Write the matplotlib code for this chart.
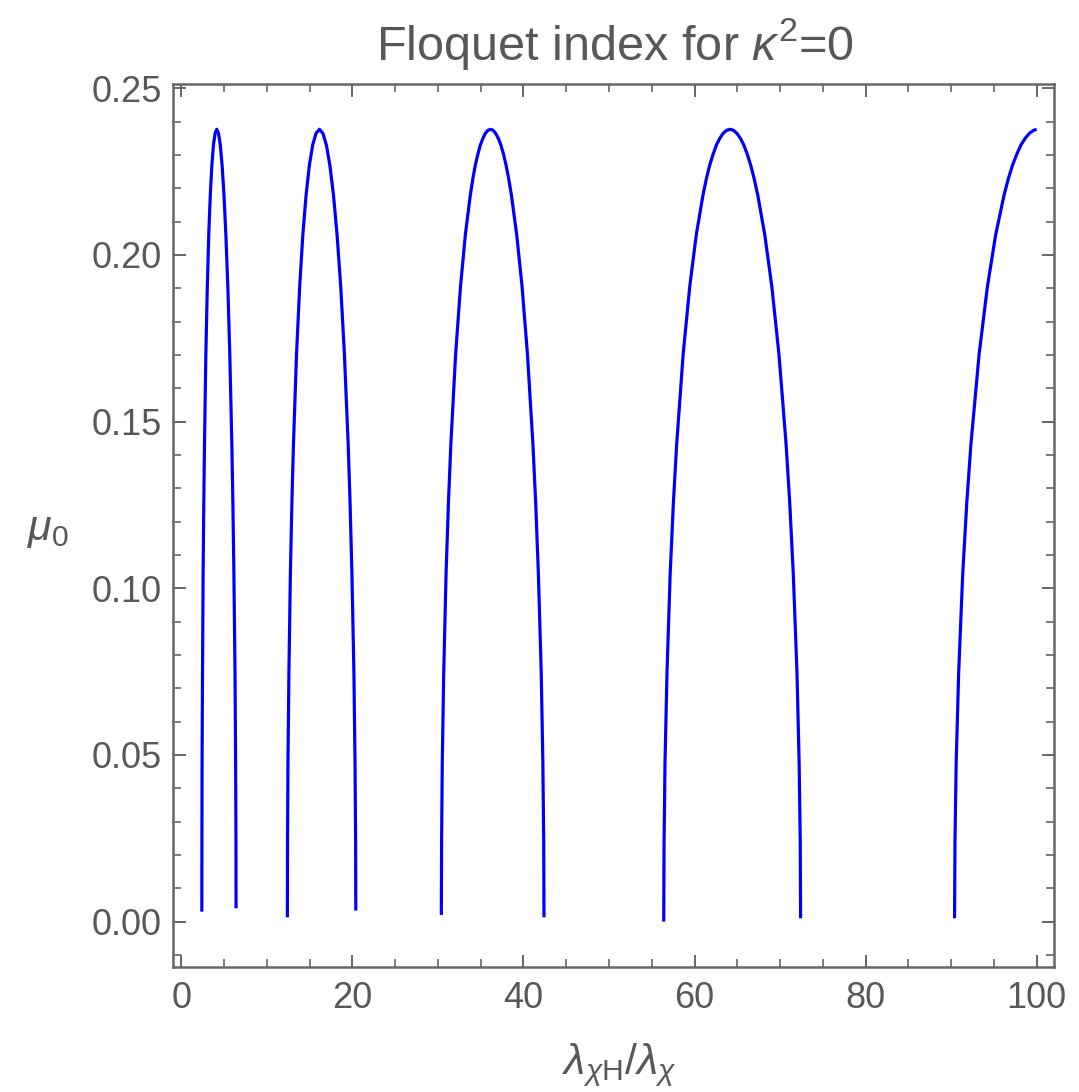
import matplotlib
matplotlib.use("Agg")
import matplotlib.pyplot as plt
from matplotlib.ticker import MultipleLocator, FormatStrFormatter

plt.rcParams['font.family'] = ['Liberation Sans', 'DejaVu Sans']
plt.rcParams['mathtext.fontset'] = 'custom'
plt.rcParams['mathtext.rm'] = 'Liberation Sans'
plt.rcParams['mathtext.it'] = 'Liberation Sans:italic'
plt.rcParams['mathtext.bf'] = 'Liberation Sans:bold'

# ---- data (lambda_chiH / lambda_chi , mu_0) ----
band1_x = [2.40, 2.41, 2.43, 2.48, 2.55, 2.63, 2.71, 2.87, 3.04, 3.21, 3.39, 3.57, 3.76, 3.95, 4.15,
           4.35, 4.56, 4.77, 4.99, 5.21, 5.44, 5.67, 5.91, 6.03, 6.15, 6.28, 6.35, 6.39, 6.40]
band1_y = [0.0030, 0.0239, 0.0477, 0.0746, 0.1041, 0.1257, 0.1431, 0.1702, 0.1905, 0.2061, 0.2180,
           0.2269, 0.2330, 0.2365, 0.2377, 0.2365, 0.2330, 0.2269, 0.2180, 0.2061, 0.1905, 0.1702,
           0.1431, 0.1257, 0.1041, 0.0746, 0.0477, 0.0239, 0.0040]

band2_x = [12.40, 12.42, 12.47, 12.58, 12.75, 12.93, 13.11, 13.47, 13.84, 14.21, 14.59, 14.97, 15.36,
           15.75, 16.15, 16.55, 16.96, 17.37, 17.79, 18.21, 18.64, 19.07, 19.51, 19.73, 19.95, 20.18,
           20.31, 20.38, 20.40]
band2_y = [0.0013, 0.0239, 0.0477, 0.0746, 0.1041, 0.1257, 0.1431, 0.1702, 0.1905, 0.2061, 0.2180,
           0.2269, 0.2330, 0.2365, 0.2377, 0.2365, 0.2330, 0.2269, 0.2180, 0.2061, 0.1905, 0.1702,
           0.1431, 0.1257, 0.1041, 0.0746, 0.0477, 0.0239, 0.0033]

band3_x = [30.40, 30.43, 30.51, 30.68, 30.95, 31.23, 31.51, 32.07, 32.64, 33.21, 33.79, 34.08, 34.37,
           34.67, 34.96, 35.26, 35.55, 35.85, 36.15, 36.45, 36.75, 37.06, 37.36, 37.67, 37.97, 38.28,
           38.59, 39.21, 39.84, 40.47, 41.11, 41.43, 41.75, 42.08, 42.27, 42.37, 42.40]
band3_y = [0.0020, 0.0239, 0.0477, 0.0746, 0.1041, 0.1257, 0.1431, 0.1702, 0.1905, 0.2061, 0.2180,
           0.2228, 0.2269, 0.2302, 0.2330, 0.2350, 0.2365, 0.2374, 0.2377, 0.2374, 0.2365, 0.2350,
           0.2330, 0.2302, 0.2269, 0.2228, 0.2180, 0.2061, 0.1905, 0.1702, 0.1431, 0.1257, 0.1041,
           0.0746, 0.0477, 0.0239, 0.0013]

band4_x = [56.40, 56.44, 56.55, 56.78, 57.15, 57.53, 57.91, 58.67, 59.44, 60.21, 60.99, 61.38, 61.77,
           62.17, 62.56, 62.96, 63.35, 63.75, 64.15, 64.55, 64.95, 65.36, 65.76, 66.17, 66.57, 66.98,
           67.39, 68.21, 69.04, 69.87, 70.71, 71.13, 71.55, 71.98, 72.23, 72.36, 72.40]
band4_y = [0.0000, 0.0239, 0.0477, 0.0746, 0.1041, 0.1257, 0.1431, 0.1702, 0.1905, 0.2061, 0.2180,
           0.2228, 0.2269, 0.2302, 0.2330, 0.2350, 0.2365, 0.2374, 0.2377, 0.2374, 0.2365, 0.2350,
           0.2330, 0.2302, 0.2269, 0.2228, 0.2180, 0.2061, 0.1905, 0.1702, 0.1431, 0.1257, 0.1041,
           0.0746, 0.0477, 0.0239, 0.0010]

band5_x = [90.40, 90.45, 90.59, 90.88, 91.35, 91.83, 92.31, 93.27, 94.24, 95.21, 96.19, 96.68, 97.17,
           97.67, 98.16, 98.66, 99.15, 99.65, 100.0]
band5_y = [0.0010, 0.0239, 0.0477, 0.0746, 0.1041, 0.1257, 0.1431, 0.1702, 0.1905, 0.2061, 0.2180,
           0.2228, 0.2269, 0.2302, 0.2330, 0.2350, 0.2365, 0.2374, 0.2377]

x_ticks = [0, 20, 40, 60, 80, 100]
y_ticks = [0.00, 0.05, 0.10, 0.15, 0.20, 0.25]

title_text = r"Floquet index for $\kappa^2$=0"
x_label = r"$\lambda_{\chi\mathrm{H}}/\lambda_{\chi}$"
y_label = r"$\mu_0$"

# ---- figure ----
frame_col = "#666666"
text_col = "#585858"
line_col = "#0000ff"

fig = plt.figure(figsize=(10.79, 10.92), dpi=100)
ax = fig.add_axes([0.1601, 0.1142, 0.8170, 0.8089])

for bx, by in [(band1_x, band1_y), (band2_x, band2_y), (band3_x, band3_y),
               (band4_x, band4_y), (band5_x, band5_y)]:
    ax.plot(bx, by, color=line_col, lw=2.3, solid_joinstyle='round', solid_capstyle='butt')

ax.set_xlim(-1.0, 102.06)
ax.set_ylim(-0.0137, 0.2513)

ax.set_xticks(x_ticks)
ax.set_yticks(y_ticks)
ax.xaxis.set_minor_locator(MultipleLocator(5))
ax.yaxis.set_minor_locator(MultipleLocator(0.01))
ax.yaxis.set_major_formatter(FormatStrFormatter('%.2f'))

for sp in ax.spines.values():
    sp.set_color(frame_col)
    sp.set_linewidth(1.8)

ax.tick_params(which='both', direction='in', top=True, right=True, color=frame_col,
               labelcolor=text_col, labelsize=26)
ax.tick_params(which='major', length=9, width=1.4)
ax.tick_params(which='minor', length=6, width=1.2)
ax.tick_params(axis='x', which='major', pad=10)
ax.tick_params(axis='y', which='major', pad=8)

ax.set_xlabel(x_label, fontsize=31, color=text_col, va='center', ha='center')
ax.xaxis.set_label_coords(0.506, -0.1106)
ax.set_ylabel(y_label, fontsize=31, color=text_col, rotation=0, va='center', ha='center')
ax.yaxis.set_label_coords(-0.142, 0.495)

fig.text(0.570, 0.945, title_text, fontsize=35, color=text_col, ha='center', va='baseline')

fig.savefig("out.png", dpi=100)
